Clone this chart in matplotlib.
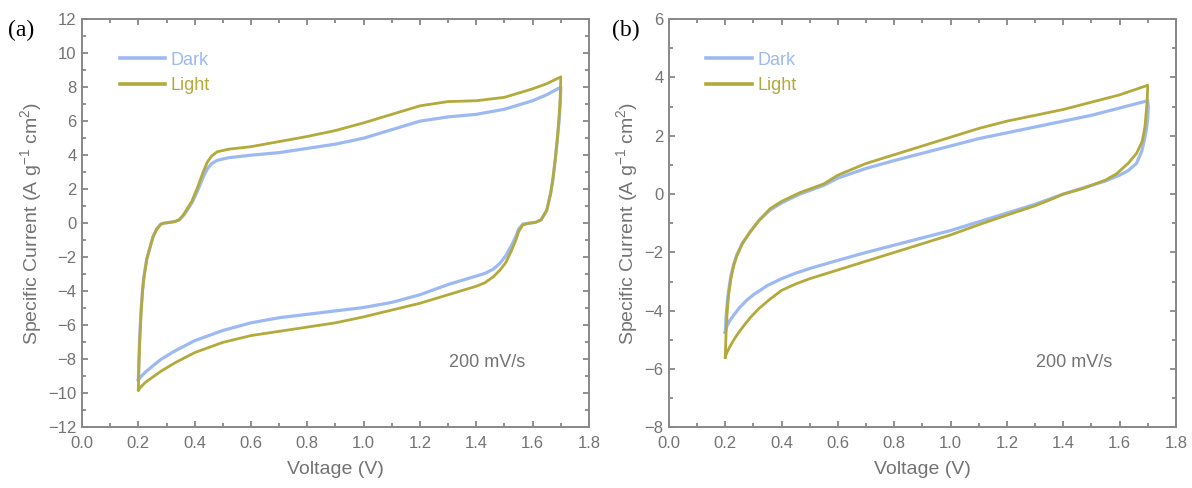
import numpy as np
import matplotlib.pyplot as plt
from matplotlib.ticker import MultipleLocator

plt.rcParams['font.family'] = ['Liberation Sans', 'DejaVu Sans']
plt.rcParams['mathtext.default'] = 'regular'

# ---- panel (a): voltage (V) / specific current, one full CV loop ----
a_dark_v = [0.2, 0.202, 0.205, 0.21, 0.215, 0.22, 0.23, 0.24, 0.252, 0.265, 0.28, 0.29, 0.31, 0.33, 0.345, 0.36, 0.375, 0.39, 0.41, 0.43, 0.445, 0.46, 0.48, 0.52,
            0.6, 0.7, 0.8, 0.9, 1.0, 1.1, 1.2, 1.3, 1.4, 1.5, 1.6, 1.65, 1.7,
            1.698, 1.694, 1.688, 1.68, 1.672, 1.664, 1.65, 1.63, 1.61, 1.585, 1.565, 1.55, 1.54, 1.525, 1.505, 1.484, 1.46, 1.43, 1.4, 1.35,
            1.3, 1.2, 1.1, 1.0, 0.9, 0.8, 0.7, 0.6, 0.5, 0.4, 0.33, 0.28, 0.25, 0.225, 0.21, 0.2]
a_dark_i = [-9.2, -8.0, -6.6, -5.0, -3.9, -3.1, -2.1, -1.5, -0.8, -0.35, -0.05, 0.0, 0.05, 0.1, 0.2, 0.45, 0.8, 1.2, 1.9, 2.7, 3.2, 3.5, 3.7, 3.85,
            4.0, 4.15, 4.4, 4.65, 5.0, 5.5, 6.0, 6.25, 6.4, 6.7, 7.2, 7.55, 8.0,
            7.0, 6.0, 5.0, 3.7, 2.6, 1.76, 0.76, 0.2, 0.05, 0.0, -0.05, -0.35, -0.8, -1.3, -1.9, -2.35, -2.7, -2.95, -3.1, -3.35,
            -3.6, -4.2, -4.65, -4.95, -5.15, -5.35, -5.55, -5.85, -6.3, -6.9, -7.5, -8.0, -8.4, -8.75, -9.0, -9.2]
a_light_v = [0.2, 0.202, 0.205, 0.21, 0.215, 0.22, 0.23, 0.24, 0.252, 0.265, 0.28, 0.29, 0.31, 0.33, 0.345, 0.36, 0.375, 0.39, 0.41, 0.43, 0.445, 0.46, 0.48, 0.52,
             0.6, 0.7, 0.8, 0.9, 1.0, 1.1, 1.2, 1.3, 1.4, 1.5, 1.6, 1.65, 1.7,
             1.698, 1.694, 1.688, 1.68, 1.672, 1.664, 1.65, 1.63, 1.61, 1.585, 1.565, 1.55, 1.54, 1.525, 1.505, 1.484, 1.46, 1.43, 1.4, 1.35,
             1.3, 1.2, 1.1, 1.0, 0.9, 0.8, 0.7, 0.6, 0.5, 0.4, 0.33, 0.28, 0.25, 0.225, 0.21, 0.2]
a_light_i = [-9.8, -8.4, -6.9, -5.2, -4.0, -3.2, -2.1, -1.5, -0.8, -0.35, -0.05, 0.0, 0.05, 0.1, 0.2, 0.5, 0.9, 1.3, 2.1, 3.0, 3.6, 3.95, 4.2, 4.35,
             4.5, 4.8, 5.1, 5.45, 5.9, 6.4, 6.9, 7.15, 7.2, 7.4, 7.9, 8.2, 8.6,
             7.4, 6.3, 5.0, 3.7, 2.6, 1.76, 0.76, 0.2, 0.05, 0.0, -0.1, -0.5, -1.0, -1.6, -2.3, -2.75, -3.15, -3.5, -3.7, -3.95,
             -4.2, -4.7, -5.1, -5.5, -5.85, -6.1, -6.35, -6.6, -7.0, -7.6, -8.2, -8.7, -9.05, -9.35, -9.6, -9.8]

# ---- panel (b) ----
b_dark_v = [0.2, 0.203, 0.207, 0.212, 0.22, 0.23, 0.24, 0.26, 0.288, 0.32, 0.359, 0.4, 0.465, 0.55, 0.6, 0.7, 0.8, 0.9, 1.0, 1.1, 1.2, 1.3, 1.4, 1.5, 1.6, 1.7,
            1.702, 1.7, 1.695, 1.688, 1.678, 1.66, 1.63, 1.6, 1.55, 1.5, 1.45, 1.4, 1.3, 1.2, 1.1, 1.0, 0.9, 0.8, 0.7, 0.6, 0.5, 0.45, 0.4, 0.35, 0.3, 0.276, 0.25, 0.23, 0.215, 0.205, 0.2]
b_dark_i = [-4.73, -4.2, -3.7, -3.3, -2.8, -2.4, -2.1, -1.7, -1.3, -0.9, -0.55, -0.3, 0.0, 0.3, 0.55, 0.88, 1.15, 1.4, 1.65, 1.9, 2.1, 2.3, 2.5, 2.7, 2.95, 3.2,
            3.0, 2.6, 2.2, 1.85, 1.45, 1.05, 0.8, 0.65, 0.45, 0.3, 0.15, 0.0, -0.35, -0.65, -0.95, -1.25, -1.5, -1.75, -2.0, -2.27, -2.55, -2.71, -2.9, -3.13, -3.45, -3.64, -3.9, -4.15, -4.35, -4.55, -4.73]
b_light_v = [0.2, 0.203, 0.207, 0.212, 0.22, 0.23, 0.24, 0.26, 0.288, 0.32, 0.359, 0.4, 0.465, 0.55, 0.6, 0.7, 0.8, 0.9, 1.0, 1.1, 1.2, 1.3, 1.4, 1.5, 1.6, 1.7,
             1.698, 1.694, 1.69, 1.68, 1.66, 1.63, 1.59, 1.55, 1.5, 1.47, 1.4, 1.35, 1.3, 1.2, 1.1, 1.0, 0.9, 0.8, 0.7, 0.6, 0.5, 0.45, 0.4, 0.359, 0.32, 0.29, 0.265, 0.245, 0.23, 0.215, 0.205, 0.2]
b_light_i = [-5.59, -4.7, -4.0, -3.45, -2.9, -2.45, -2.15, -1.7, -1.3, -0.9, -0.5, -0.25, 0.05, 0.35, 0.65, 1.05, 1.35, 1.65, 1.95, 2.25, 2.5, 2.7, 2.9, 3.15, 3.4, 3.73,
             3.2, 2.75, 2.3, 1.8, 1.39, 1.05, 0.7, 0.48, 0.3, 0.19, 0.0, -0.21, -0.4, -0.72, -1.05, -1.4, -1.7, -2.0, -2.3, -2.6, -2.9, -3.08, -3.3, -3.6, -3.92, -4.22, -4.52, -4.78, -5.0, -5.25, -5.45, -5.59]

dark_color = '#9db9f2'
light_color = '#b3aa3c'
gray = '#737373'

fig = plt.figure(figsize=(11.92, 4.88), dpi=100)
ax_a = fig.add_axes([0.0688, 0.124, 0.4253, 0.837])
ax_b = fig.add_axes([0.5612, 0.124, 0.4253, 0.837])

panels = [
    (ax_a, a_dark_v, a_dark_i, a_light_v, a_light_i, (-12, 12), '(a)', -0.146),
    (ax_b, b_dark_v, b_dark_i, b_light_v, b_light_i, (-8, 6), '(b)', -0.112),
]

for ax, dv, di, lv, li, ylim, tag, tag_x in panels:
    ax.plot(dv, di, color=dark_color, lw=2.3, label='Dark', solid_joinstyle='round')
    ax.plot(lv, li, color=light_color, lw=2.0, label='Light', solid_joinstyle='round')
    ax.set_xlim(0, 1.8)
    ax.set_ylim(*ylim)
    ax.xaxis.set_major_locator(MultipleLocator(0.2))
    ax.xaxis.set_minor_locator(MultipleLocator(0.1))
    ax.yaxis.set_major_locator(MultipleLocator(2))
    ax.yaxis.set_minor_locator(MultipleLocator(1))
    ax.xaxis.set_major_formatter(plt.FuncFormatter(lambda v, p: f'{v:.1f}'))
    ax.yaxis.set_major_formatter(plt.FuncFormatter(lambda v, p: f'{int(round(v))}'.replace('-', '\u2212')))
    ax.tick_params(which='both', direction='in', top=True, right=True, colors=gray, labelsize=12)
    ax.tick_params(which='major', length=4.5, width=1.1)
    ax.tick_params(which='minor', length=3, width=1.1)
    ax.tick_params(axis='x', pad=6)
    ax.tick_params(axis='y', pad=4)
    for s in ax.spines.values():
        s.set_color('#888888')
        s.set_linewidth(1.4)
    ax.set_xlabel('Voltage (V)', color=gray, fontsize=14, labelpad=7)
    ax.set_ylabel('Specific Current (A g$^{-1}$ cm$^2$)', color=gray, fontsize=14, labelpad=3)
    leg = ax.legend(loc='upper left', bbox_to_anchor=(0.074, 0.92), frameon=False, fontsize=13,
                    handlelength=2.5, handletextpad=0.3, borderaxespad=0, borderpad=0, labelspacing=0.45)
    for txt, c in zip(leg.get_texts(), [dark_color, light_color]):
        txt.set_color(c)
    for ln in leg.get_lines():
        ln.set_linewidth(2.6)
    ax.text(0.80, 0.16, '200 mV/s', transform=ax.transAxes, color=gray, fontsize=13, ha='center', va='center')
    ax.text(tag_x, 0.973, tag, transform=ax.transAxes, fontsize=17, family='Liberation Serif',
            color='black', va='center', ha='left')

fig.savefig('out.png', dpi=100)
